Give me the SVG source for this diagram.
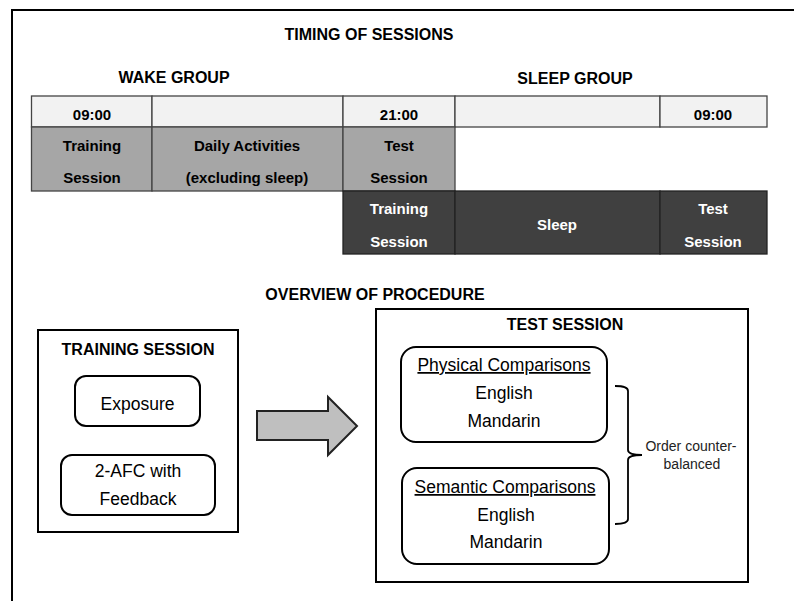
<svg xmlns="http://www.w3.org/2000/svg" width="794" height="601" viewBox="0 0 794 601">
<style>
text{font-family:"Liberation Sans",Arial,sans-serif;text-anchor:middle;fill:#000}
.h{font-weight:bold;font-size:16px}
.c{font-weight:bold;font-size:15px}
.w{fill:#fff}
.hdr{fill:#f2f2f2;stroke:#444;stroke-width:1.3}
.gry{fill:#a6a6a6;stroke:#444;stroke-width:1.3}
.drk{fill:#404040;stroke:#222;stroke-width:1.3}
.box{fill:#fff;stroke:#000;stroke-width:2}
.rbox{fill:#fff;stroke:#000;stroke-width:2}
.t{font-size:17.5px}
.s{font-size:14px;fill:#222}
</style>
<rect width="794" height="601" fill="#fff"/>
<path d="M12,601 V10 H794" fill="none" stroke="#000" stroke-width="2"/>

<g id="titles">
<text class="h" x="369" y="40">TIMING OF SESSIONS</text>
<text class="h" x="174" y="83">WAKE GROUP</text>
<text class="h" x="575" y="84">SLEEP GROUP</text>
<text class="h" x="375" y="300">OVERVIEW OF PROCEDURE</text>
</g>

<g id="timeline-header">
<rect class="hdr" x="31.5" y="96" width="120.5" height="31"/>
<rect class="hdr" x="152" y="96" width="191" height="31"/>
<rect class="hdr" x="343" y="96" width="112" height="31"/>
<rect class="hdr" x="455" y="96" width="205" height="31"/>
<rect class="hdr" x="660" y="96" width="107" height="31"/>
<text class="c" x="92" y="120">09:00</text>
<text class="c" x="399" y="120">21:00</text>
<text class="c" x="713" y="120">09:00</text>
</g>

<g id="wake-group">
<rect class="gry" x="31.5" y="127" width="120.5" height="64"/>
<rect class="gry" x="152" y="127" width="191" height="64"/>
<rect class="gry" x="343" y="127" width="112" height="64"/>
<text class="c" x="92" y="151">Training</text>
<text class="c" x="92" y="183">Session</text>
<text class="c" x="247" y="151">Daily Activities</text>
<text class="c" x="247" y="183">(excluding sleep)</text>
<text class="c" x="399" y="151">Test</text>
<text class="c" x="399" y="183">Session</text>
</g>

<g id="sleep-group">
<rect class="drk" x="343" y="191" width="112" height="63"/>
<rect class="drk" x="455" y="191" width="205" height="63"/>
<rect class="drk" x="660" y="191" width="107" height="63"/>
<text class="c w" x="399" y="214">Training</text>
<text class="c w" x="399" y="247">Session</text>
<text class="c w" x="557" y="230">Sleep</text>
<text class="c w" x="713" y="214">Test</text>
<text class="c w" x="713" y="247">Session</text>
</g>

<g id="training-session">
<rect class="box" x="38" y="330" width="200" height="202"/>
<text class="h" x="138" y="355">TRAINING SESSION</text>
<g id="exposure">
<rect class="rbox" x="75" y="376" width="125" height="50" rx="11"/>
<text class="t" x="137.5" y="410">Exposure</text>
</g>
<g id="afc">
<rect class="rbox" x="61" y="455" width="154" height="60" rx="11"/>
<text class="t" x="138" y="477">2-AFC with</text>
<text class="t" x="138" y="505">Feedback</text>
</g>
</g>

<g id="test-session">
<rect class="box" x="376" y="309" width="372" height="273"/>
<text class="h" x="565" y="330">TEST SESSION</text>
<g id="physical">
<rect class="rbox" x="401" y="347" width="206" height="95" rx="15"/>
<text class="t" x="504" y="371" text-decoration="underline">Physical Comparisons</text>
<text class="t" x="504" y="399">English</text>
<text class="t" x="504" y="427">Mandarin</text>
</g>
<g id="semantic">
<rect class="rbox" x="402" y="468" width="207" height="96" rx="15"/>
<text class="t" x="505" y="493" text-decoration="underline">Semantic Comparisons</text>
<text class="t" x="506" y="521">English</text>
<text class="t" x="506" y="548">Mandarin</text>
</g>
<g id="order-label">
<text class="s" x="691" y="451">Order counter-</text>
<text class="s" x="692" y="469">balanced</text>
</g>
</g>

<g id="connectors">
<path d="M257,411 H328 V397 L357,426 L328,455 V440 H257 Z" fill="#bfbfbf" stroke="#222" stroke-width="2" stroke-linejoin="miter"/>
<path d="M615,386 Q628,386 628,391 V450 Q628,455 642,455 Q628,455 628,460 V519 Q628,524 615,524" fill="none" stroke="#000" stroke-width="1.8"/>
</g>
</svg>
